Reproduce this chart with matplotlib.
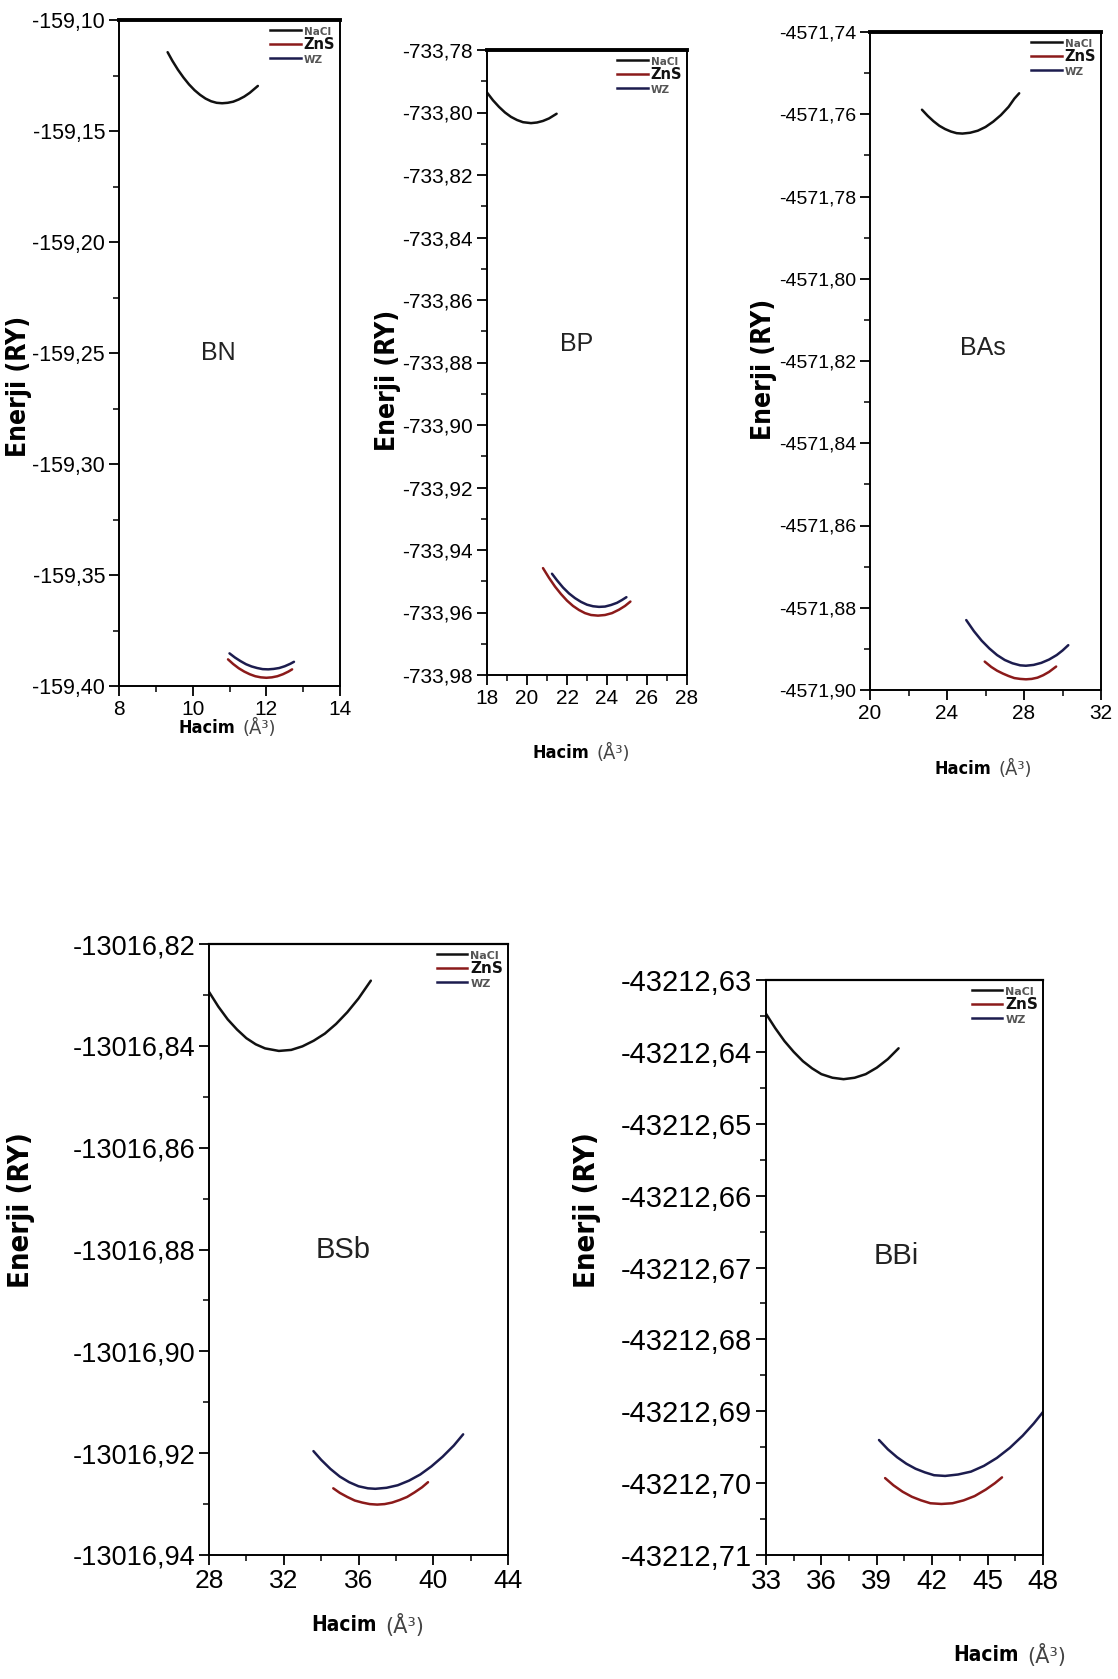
import matplotlib
matplotlib.use("Agg")
import matplotlib.pyplot as plt
from matplotlib.lines import Line2D
from matplotlib.ticker import MultipleLocator, FuncFormatter

# ---------------- data ----------------
phases = ["NaCl", "ZnS", "WZ"]
compounds = ["BN", "BP", "BAs", "BSb", "BBi"]

# BN
bn_nacl_v = [9.32, 9.45, 9.6, 9.75, 9.9, 10.05, 10.2, 10.35, 10.5, 10.65, 10.8, 10.95,
             11.1, 11.25, 11.4, 11.55, 11.77]
bn_nacl_e = [-159.1145, -159.1184, -159.1224, -159.1259, -159.1290, -159.1316, -159.1337,
             -159.1354, -159.1366, -159.1373, -159.1375, -159.1373, -159.1368, -159.1358,
             -159.1345, -159.1328, -159.1297]
bn_zns_v = [10.96, 11.1, 11.25, 11.4, 11.55, 11.7, 11.85, 12.0, 12.15, 12.3, 12.45, 12.6, 12.7]
bn_zns_e = [-159.3880, -159.3901, -159.3920, -159.3935, -159.3947, -159.3956, -159.3961,
            -159.3963, -159.3961, -159.3956, -159.3947, -159.3935, -159.3925]
bn_wz_v = [11.0, 11.15, 11.3, 11.45, 11.6, 11.75, 11.9, 12.05, 12.2, 12.35, 12.5, 12.65, 12.75]
bn_wz_e = [-159.3853, -159.3872, -159.3888, -159.3902, -159.3912, -159.3919, -159.3924,
           -159.3925, -159.3923, -159.3919, -159.3911, -159.3900, -159.3891]

# BP
bp_nacl_v = [18.0, 18.3, 18.6, 18.9, 19.2, 19.5, 19.8, 20.2, 20.5, 20.8, 21.1, 21.48]
bp_nacl_e = [-733.7936, -733.7961, -733.7982, -733.8000, -733.8014, -733.8024, -733.8031,
             -733.8034, -733.8032, -733.8027, -733.8019, -733.8004]
bp_zns_v = [20.8, 21.1, 21.4, 21.7, 22.0, 22.3, 22.6, 22.9, 23.2, 23.55, 23.9, 24.25,
            24.6, 24.9, 25.17]
bp_zns_e = [-733.9458, -733.9489, -733.9517, -733.9541, -733.9562, -733.9579, -733.9592,
            -733.9602, -733.9608, -733.9610, -733.9608, -733.9602, -733.9591, -733.9579,
            -733.9565]
bp_wz_v = [21.25, 21.5, 21.8, 22.1, 22.4, 22.7, 23.0, 23.3, 23.6, 23.9, 24.2, 24.5, 24.75, 24.97]
bp_wz_e = [-733.9476, -733.9497, -733.9520, -733.9539, -733.9554, -733.9566, -733.9575,
           -733.9580, -733.9582, -733.9581, -733.9576, -733.9569, -733.9560, -733.9551]

# BAs
bas_nacl_v = [22.7, 23.0, 23.3, 23.6, 23.9, 24.2, 24.5, 24.8, 25.2, 25.6, 26.0, 26.4,
              26.8, 27.2, 27.5, 27.75]
bas_nacl_e = [-4571.7589, -4571.7604, -4571.7617, -4571.7628, -4571.7636, -4571.7642,
              -4571.7646, -4571.7647, -4571.7645, -4571.7640, -4571.7631, -4571.7618,
              -4571.7602, -4571.7582, -4571.7562, -4571.7549]
bas_zns_v = [25.96, 26.3, 26.6, 26.9, 27.2, 27.5, 27.8, 28.1, 28.4, 28.7, 29.0, 29.3, 29.67]
bas_zns_e = [-4571.8931, -4571.8944, -4571.8953, -4571.8960, -4571.8966, -4571.8971,
             -4571.8973, -4571.8974, -4571.8973, -4571.8970, -4571.8964, -4571.8956,
             -4571.8943]
bas_wz_v = [25.0, 25.4, 25.8, 26.2, 26.6, 27.0, 27.4, 27.8, 28.1, 28.5, 28.9, 29.3, 29.7,
            30.0, 30.3]
bas_wz_e = [-4571.8830, -4571.8857, -4571.8880, -4571.8899, -4571.8915, -4571.8927,
            -4571.8935, -4571.8940, -4571.8941, -4571.8939, -4571.8934, -4571.8926,
            -4571.8915, -4571.8904, -4571.8891]

# BSb
bsb_nacl_v = [28.0, 28.5, 29.0, 29.5, 30.0, 30.5, 31.0, 31.74, 32.4, 33.0, 33.6, 34.2,
              34.8, 35.4, 36.0, 36.66]
bsb_nacl_e = [-13016.8294, -13016.8323, -13016.8348, -13016.8368, -13016.8385, -13016.8397,
              -13016.8405, -13016.8410, -13016.8408, -13016.8401, -13016.8390, -13016.8376,
              -13016.8357, -13016.8334, -13016.8307, -13016.8272]
bsb_zns_v = [34.65, 35.0, 35.4, 35.8, 36.2, 36.6, 37.0, 37.4, 37.8, 38.2, 38.6, 39.0,
             39.4, 39.72]
bsb_zns_e = [-13016.9269, -13016.9278, -13016.9286, -13016.9293, -13016.9297, -13016.9300,
             -13016.9301, -13016.9300, -13016.9297, -13016.9292, -13016.9286, -13016.9277,
             -13016.9267, -13016.9257]
bsb_wz_v = [33.59, 34.0, 34.5, 35.0, 35.5, 36.0, 36.5, 36.9, 37.5, 38.1, 38.7, 39.3, 39.9,
            40.5, 41.1, 41.6]
bsb_wz_e = [-13016.9196, -13016.9213, -13016.9231, -13016.9246, -13016.9257, -13016.9265,
            -13016.9269, -13016.9270, -13016.9268, -13016.9263, -13016.9254, -13016.9242,
            -13016.9226, -13016.9207, -13016.9185, -13016.9163]

# BBi
bbi_nacl_v = [33.0, 33.5, 34.0, 34.5, 35.0, 35.5, 36.0, 36.6, 37.2, 37.8, 38.4, 39.0,
              39.6, 40.18]
bbi_nacl_e = [-43212.6347, -43212.6367, -43212.6385, -43212.6400, -43212.6413, -43212.6423,
              -43212.6431, -43212.6436, -43212.6438, -43212.6436, -43212.6431, -43212.6422,
              -43212.6410, -43212.6395]
bbi_zns_v = [39.45, 39.9, 40.4, 40.9, 41.4, 41.9, 42.5, 43.1, 43.7, 44.3, 44.9, 45.4, 45.78]
bbi_zns_e = [-43212.6993, -43212.7003, -43212.7012, -43212.7019, -43212.7024, -43212.7028,
             -43212.7029, -43212.7028, -43212.7024, -43212.7018, -43212.7009, -43212.7000,
             -43212.6992]
bbi_wz_v = [39.12, 39.6, 40.1, 40.6, 41.1, 41.6, 42.1, 42.7, 43.4, 44.1, 44.8, 45.5, 46.2,
            46.9, 47.5, 48.0]
bbi_wz_e = [-43212.6940, -43212.6953, -43212.6964, -43212.6973, -43212.6980, -43212.6985,
            -43212.6989, -43212.6990, -43212.6988, -43212.6984, -43212.6976, -43212.6965,
            -43212.6951, -43212.6934, -43212.6917, -43212.6901]

# axis ranges
bn_xlim, bn_ylim = (8, 14), (-159.40, -159.10)
bp_xlim, bp_ylim = (18, 28), (-733.98, -733.78)
bas_xlim, bas_ylim = (20, 32), (-4571.90, -4571.74)
bsb_xlim, bsb_ylim = (28, 44), (-13016.94, -13016.82)
bbi_xlim, bbi_ylim = (33, 48), (-43212.71, -43212.63)

# ---------------- styling ----------------
W, H = 1118, 1679
fig = plt.figure(figsize=(W / 100, H / 100), dpi=100)
fig.patch.set_facecolor("white")

COL = {"NaCl": "#111111", "ZnS": "#8b1a1a", "WZ": "#1c1c4e"}
TICKFONT = ["Liberation Sans", "DejaVu Sans"]
LABFONT = ["DejaVu Sans"]


def comma(v, nd):
    return f"{v:.{nd}f}".replace(".", ",")


def make_panel(box, xlim, ylim, xmaj, xmin, ymaj, ymin, data, name, name_xy,
               tick_fs, xtick_fs, name_fs, top_lw, leg_sizes):
    l, r, t, b = box
    ax = fig.add_axes([l / W, 1 - b / H, (r - l) / W, (b - t) / H])
    for (v, e), ph in zip(data, phases):
        ax.plot(v, e, color=COL[ph], lw=1.8, solid_capstyle="round",
                solid_joinstyle="round")
    ax.set_xlim(*xlim)
    ax.set_ylim(*ylim)
    ax.xaxis.set_major_locator(MultipleLocator(xmaj))
    ax.xaxis.set_minor_locator(MultipleLocator(xmin))
    ax.yaxis.set_major_locator(MultipleLocator(ymaj))
    ax.yaxis.set_minor_locator(MultipleLocator(ymin))
    ax.yaxis.set_major_formatter(FuncFormatter(lambda v, p: comma(v, 2)))
    ax.xaxis.set_major_formatter(FuncFormatter(lambda v, p: f"{v:.0f}"))
    ax.tick_params(which="major", direction="out", length=7, width=1.3, pad=3)
    ax.tick_params(which="minor", direction="out", length=4, width=1.1)
    ax.tick_params(top=False, right=False, which="both")
    for lab in ax.get_yticklabels():
        lab.set_fontsize(tick_fs)
        lab.set_family(TICKFONT)
    for lab in ax.get_xticklabels():
        lab.set_fontsize(xtick_fs)
        lab.set_family(TICKFONT)
    for s in ["left", "right", "bottom"]:
        ax.spines[s].set_linewidth(1.4)
    ax.spines["top"].set_linewidth(top_lw)
    ax.text(name_xy[0], name_xy[1], name, transform=ax.transAxes, fontsize=name_fs,
            family=TICKFONT, ha="center", va="center", color="#222222")
    handles = [Line2D([], [], color=COL[p], lw=1.8) for p in phases]
    leg = ax.legend(handles, phases, loc="upper right", frameon=False,
                    handlelength=2.2, handletextpad=0.2, labelspacing=0.05,
                    borderaxespad=0.25, borderpad=0.1)
    for txt, fs, c in zip(leg.get_texts(), leg_sizes, ["#555555", "#111111", "#555555"]):
        txt.set_fontsize(fs)
        txt.set_fontweight("bold")
        txt.set_color(c)
        txt.set_family(LABFONT)
    return ax


# boxes: left, right, top, bottom (pixels)
make_panel((119, 340, 20, 686), bn_xlim, bn_ylim, 2, 1, 0.05, 0.025,
           [(bn_nacl_v, bn_nacl_e), (bn_zns_v, bn_zns_e), (bn_wz_v, bn_wz_e)],
           "BN", (0.45, 0.50), 15.5, 15, 18, 2.8, (7.5, 10.5, 7.5))
make_panel((487, 687, 50, 675), bp_xlim, bp_ylim, 2, 1, 0.02, 0.01,
           [(bp_nacl_v, bp_nacl_e), (bp_zns_v, bp_zns_e), (bp_wz_v, bp_wz_e)],
           "BP", (0.45, 0.53), 15, 15, 18, 2.8, (7.5, 10.5, 7.5))
make_panel((870, 1101, 32, 690), bas_xlim, bas_ylim, 4, 2, 0.02, 0.01,
           [(bas_nacl_v, bas_nacl_e), (bas_zns_v, bas_zns_e), (bas_wz_v, bas_wz_e)],
           "BAs", (0.49, 0.52), 14, 15, 18, 2.8, (7.5, 10.5, 7.5))
make_panel((209, 508, 944, 1555), bsb_xlim, bsb_ylim, 4, 2, 0.02, 0.01,
           [(bsb_nacl_v, bsb_nacl_e), (bsb_zns_v, bsb_zns_e), (bsb_wz_v, bsb_wz_e)],
           "BSb", (0.45, 0.50), 19.5, 19, 21, 1.6, (8, 11, 8))
make_panel((766, 1043, 980, 1555), bbi_xlim, bbi_ylim, 3, 1.5, 0.01, 0.005,
           [(bbi_nacl_v, bbi_nacl_e), (bbi_zns_v, bbi_zns_e), (bbi_wz_v, bbi_wz_e)],
           "BBi", (0.47, 0.52), 21, 20, 21, 1.6, (8, 11, 8))


def ylab(x, y, fs):
    fig.text(x / W, 1 - y / H, "Enerji (RY)", rotation=90, ha="center", va="center",
             fontsize=fs, fontweight="bold", family=LABFONT, fontstretch="condensed")


def xlab(x, y, fs):
    # bold word left of the gap, lighter unit right of it
    fig.text((x - 4) / W, 1 - y / H, "Hacim", ha="right", va="center",
             fontsize=fs, fontweight="bold", family=LABFONT, fontstretch="condensed")
    fig.text((x + 4) / W, 1 - y / H, "(Å³)", ha="left", va="center",
             fontsize=fs, fontweight="normal", family=LABFONT, color="#444444")


ylab(19, 386, 19)
ylab(388, 380, 19)
ylab(764, 369, 19)
ylab(21, 1210, 21)
ylab(587, 1210, 21)
xlab(239, 728, 13)
xlab(593, 753, 13)
xlab(995, 769, 13)
xlab(381, 1625, 15)
xlab(1023, 1655, 15)

fig.savefig("out.png", dpi=100, facecolor="white")
